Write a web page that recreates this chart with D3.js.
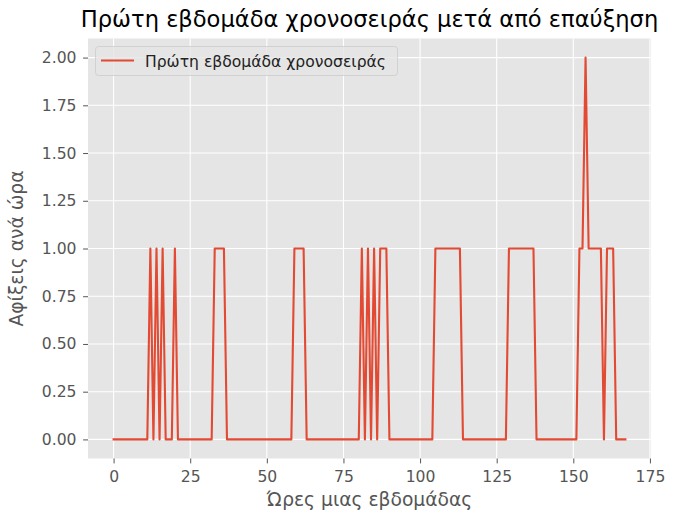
<!DOCTYPE html>
<html>
<head>
<meta charset="utf-8">
<title>Πρώτη εβδομάδα χρονοσειράς</title>
<script src="https://d3js.org/d3.v7.min.js"></script>
<style>
body { margin: 0; background: #fff; }
svg { display: block; font-family: "DejaVu Sans", sans-serif; }
.tick text { fill: #555555; font-size: 15.6px; }
.tick line { stroke: #555555; }
</style>
</head>
<body>
<div id="chart"></div>
<script>
//--------------------------- DATA ------------------------------//
// arrivals per hour, one row per day (24 hours each)
var day1 = [0,0,0,0,0,0,0,0,0,0,0,0,1,0,1,0,1,0,0,0,1,0,0,0];
var day2 = [0,0,0,0,0,0,0,0,0,1,1,1,1,0,0,0,0,0,0,0,0,0,0,0];
var day3 = [0,0,0,0,0,0,0,0,0,0,0,1,1,1,1,0,0,0,0,0,0,0,0,0];
var day4 = [0,0,0,0,0,0,0,0,0,1,0,1,0,1,0,1,1,1,0,0,0,0,0,0];
var day5 = [0,0,0,0,0,0,0,0,0,1,1,1,1,1,1,1,1,1,0,0,0,0,0,0];
var day6 = [0,0,0,0,0,0,0,0,0,1,1,1,1,1,1,1,1,1,0,0,0,0,0,0];
var day7 = [0,0,0,0,0,0,0,0,1,1,2,1,1,1,1,1,0,1,1,1,0,0,0,0];
var arrivals = [].concat(day1, day2, day3, day4, day5, day6, day7);

var xTicks = [0, 25, 50, 75, 100, 125, 150, 175];
var yTicks = [0, 0.25, 0.5, 0.75, 1, 1.25, 1.5, 1.75, 2];

var titleText = "Πρώτη εβδομάδα χρονοσειράς μετά από επαύξηση";
var seriesName = "Πρώτη εβδομάδα χρονοσειράς";
var xLabel = "Ώρες μιας εβδομάδας";
var yLabel = "Αφίξεις ανά ώρα";

//------------------------- LAYOUT ------------------------------//
var W = 679, H = 516;
var plotLeft = 88, plotRight = 651, plotTop = 38.5, plotBottom = 458.5;

var points = arrivals.map(function(v, i) { return { hour: i, value: v }; });

var xScale = d3.scaleLinear()
    .domain([-0.05 * 167, 167 * 1.05])
    .range([plotLeft, plotRight]);
var yScale = d3.scaleLinear()
    .domain([-0.1, 2.1])
    .range([plotBottom, plotTop]);

var svg = d3.select("#chart").append("svg")
    .attr("width", W)
    .attr("height", H);

// plot background
svg.append("rect")
    .attr("x", plotLeft).attr("y", plotTop)
    .attr("width", plotRight - plotLeft).attr("height", plotBottom - plotTop)
    .attr("fill", "#E5E5E5");

// grid
svg.append("g").selectAll("line")
    .data(xTicks).enter().append("line")
    .attr("x1", function(d) { return xScale(d); })
    .attr("x2", function(d) { return xScale(d); })
    .attr("y1", plotTop).attr("y2", plotBottom)
    .attr("stroke", "#fff").attr("stroke-width", 1.1);

svg.append("g").selectAll("line")
    .data(yTicks).enter().append("line")
    .attr("y1", function(d) { return yScale(d); })
    .attr("y2", function(d) { return yScale(d); })
    .attr("x1", plotLeft).attr("x2", plotRight)
    .attr("stroke", "#fff").attr("stroke-width", 1.1);

//-------------------------- AXES -------------------------------//
var xAxis = d3.axisBottom(xScale)
    .tickValues(xTicks)
    .tickFormat(d3.format("d"))
    .tickSize(4.9)
    .tickPadding(7.5);

var yAxis = d3.axisLeft(yScale)
    .tickValues(yTicks)
    .tickFormat(d3.format(".2f"))
    .tickSize(4.9)
    .tickPadding(6.6);

var gx = svg.append("g")
    .attr("transform", "translate(0," + plotBottom + ")")
    .call(xAxis);
gx.select(".domain").remove();

var gy = svg.append("g")
    .attr("transform", "translate(" + plotLeft + ",0)")
    .call(yAxis);
gy.select(".domain").remove();

svg.selectAll(".tick text").attr("font-family", "DejaVu Sans");

//-------------------------- LINE -------------------------------//
var line = d3.line()
    .x(function(d) { return xScale(d.hour); })
    .y(function(d) { return yScale(d.value); });

svg.append("path")
    .datum(points)
    .attr("d", line)
    .attr("fill", "none")
    .attr("stroke", "#E24A33")
    .attr("stroke-width", 2.1)
    .attr("stroke-linejoin", "round")
    .attr("stroke-linecap", "square");

//-------------------------- TEXT -------------------------------//
svg.append("text")
    .attr("x", (plotLeft + plotRight) / 2)
    .attr("y", 27)
    .attr("text-anchor", "middle")
    .attr("font-size", "22.6px")
    .attr("fill", "#000")
    .text(titleText);

svg.append("text")
    .attr("x", (plotLeft + plotRight) / 2)
    .attr("y", 506)
    .attr("text-anchor", "middle")
    .attr("font-size", "18.7px")
    .attr("fill", "#555555")
    .text(xLabel);

svg.append("text")
    .attr("transform", "translate(23," + ((plotTop + plotBottom) / 2) + ") rotate(-90)")
    .attr("text-anchor", "middle")
    .attr("font-size", "18.7px")
    .attr("fill", "#555555")
    .text(yLabel);

//------------------------- LEGEND ------------------------------//
var legend = svg.append("g");
legend.append("rect")
    .attr("x", 95.5).attr("y", 46.5)
    .attr("width", 302).attr("height", 29)
    .attr("rx", 3)
    .attr("fill", "#E5E5E5").attr("fill-opacity", 0.8)
    .attr("stroke", "#CCCCCC").attr("stroke-opacity", 0.8);
legend.append("line")
    .attr("x1", 101).attr("x2", 134)
    .attr("y1", 60.5).attr("y2", 60.5)
    .attr("stroke", "#E24A33").attr("stroke-width", 2.1);
legend.append("text")
    .attr("x", 145).attr("y", 66.5)
    .attr("font-size", "15.6px")
    .attr("fill", "#222")
    .text(seriesName);
</script>
</body>
</html>
